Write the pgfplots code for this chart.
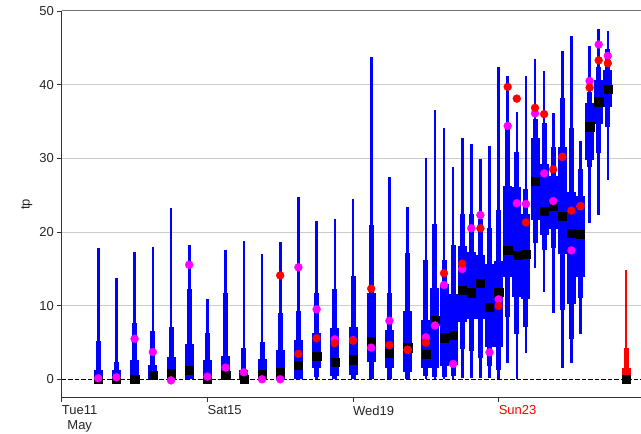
\documentclass[border=0pt]{standalone}
\usepackage{fontspec}
\setmainfont{Liberation Sans}
\usepackage{pgfplots}
\pgfplotsset{compat=1.18}
\usepackage{pgfplotstable}
\definecolor{eblue}{RGB}{0,0,255}
\definecolor{ered}{RGB}{255,0,0}
\definecolor{emag}{RGB}{255,0,255}

\pgfplotstableread{
x min p10 p25 med p75 p90 max red mag
1.0 0 0 0 0 1.26 5.2 17.8 nan 0.15
1.5 0 0 0 0 1.26 2.3 13.7 nan 0.27
2.0 0 0 0 0 2.6 7.6 17.3 nan 5.5
2.5 0 0 0 0.54 2.0 6.5 17.9 nan 3.7
3.0 0 0 0 0.85 3.07 7.05 23.2 nan -0.15
3.5 0 0 0 1.26 4.8 12.2 18.2 nan 15.55
4.0 0 0 0 0 2.6 6.3 10.9 nan 0.36
4.5 0 0 0 0.58 3.16 11.75 17.6 nan 1.58
5.0 0 0 0 0 1.26 4.3 18.8 nan 0.95
5.5 0 0 0 0.68 2.7 5.0 16.95 nan 0
6.0 0 0 0 0.95 4.0 9.0 18.7 14.1 0
6.5 0 0 0 1.9 5.33 9.3 24.8 3.45 15.2
7.0 0 0.35 1.49 3.16 6.24 11.67 21.5 5.56 9.5
7.5 0 0 0.45 2.3 6.9 12.2 21.7 4.9 5.43
8.0 0 0.1 0.58 2.66 7.1 14.0 24.5 5.24 5.3
8.5 0 0 2.4 5.1 11.75 20.9 43.7 12.3 4.3
9.0 0 0.1 1.5 3.5 6.7 11.75 27.5 4.65 7.95
9.5 0 0 1.03 4.3 9.3 17.1 23.4 4.0 4.0
10.0 0 0.4 1.5 3.43 8.0 16.2 30.1 4.97 5.7
10.25 0 0.3 1.6 7.95 12.35 21.1 36.6 nan 7.3
10.5 0 0.3 1.8 5.65 12.9 16.2 34.05 14.4 12.8
10.75 0 0.4 2.0 5.97 11.6 18.2 28.85 nan 2.08
11.0 0.2 4.1 7.75 12.1 18.1 22.5 32.7 15.7 14.97
11.25 0.2 3.9 8.2 11.75 17.3 22.4 32.0 nan 20.5
11.5 0.2 2.95 8.15 13.07 16.9 21.8 29.85 20.5 22.3
11.75 0.2 1.8 4.4 9.77 15.7 20.5 31.65 nan 3.66
12.0 0 1.26 4.4 11.85 16.0 23.0 42.4 9.95 10.85
12.25 2.17 8.45 13.95 17.5 26.2 34.05 41.2 39.7 34.4
12.5 0.1 6.2 11.2 16.8 26.1 30.8 36.3 38.1 23.9
12.75 3.6 7.05 10.9 17.0 22.5 25.9 41.15 21.3 23.8
13.0 15.06 18.45 21.6 26.9 32.8 35.4 43.55 36.85 36.1
13.25 11.9 17.5 19.6 22.85 29.2 34.8 41.9 36.0 27.95
13.5 9.0 17.8 20.4 23.5 27.6 31.5 36.2 28.5 24.2
13.75 1.5 9.4 16.95 22.1 31.6 38.2 44.6 30.2 30.2
14.0 2.17 5.43 10.2 19.8 25.45 34.05 46.6 22.9 17.5
14.25 6.15 11.05 13.9 19.65 24.95 28.5 32.4 23.5 23.5
14.5 21.2 28.85 29.75 34.3 37.5 39.0 45.2 39.6 40.5
14.75 22.3 30.7 34.7 37.7 40.6 42.4 47.6 43.3 45.45
15.0 27.1 34.3 36.9 39.4 42.0 44.8 47.25 42.9 43.9
}\ens

\pgfplotstableread{
x min p10 p25 med p75 p90 max
15.5 0 0 0 0 1.5 4.25 14.8
}\clim

\newcommand{\lf}{\fontsize{13bp}{14.3bp}\selectfont}

\begin{document}
\begin{tikzpicture}
\path[use as bounding box] (-61.8bp,-36.3bp) rectangle (579.2bp,397.7bp);
\begin{axis}[
  scale only axis, width=579.2bp, height=386.7bp,
  xmin=0, xmax=15.912, ymin=-2.5, ymax=50,
  axis x line=bottom, axis y line=left,
  axis line style={-, black!80, line width=0.9bp},
  tick align=outside, major tick length=4.5bp,
  tick style={black!80, line width=0.8bp},
  xtick={0,4,8,12},
  xticklabels={{Tue11\\May},Sat15,Wed19,\textcolor{ered}{Sun23}},
  xticklabel style={anchor=north west, align=center, inner xsep=0pt, inner ysep=2.5bp, yshift=-1bp},
  ytick={10,20,30,40}, extra y ticks={0,50}, extra y tick style={grid=none},
  ymajorgrids, grid style={black!20, line width=0.9bp},
  tick label style={font=\lf, text=black!85},
  /pgf/number format/assume math mode=true,
  ylabel={tp},
  every axis y label/.style={at={(axis description cs:-0.0605,0.5)}, rotate=90, anchor=center, font=\lf, text=black!85},
  clip=false,
]
\addplot[black!55, line width=1bp, forget plot] coordinates {(0,50) (15.912,50)};
\addplot[black, line width=1.1bp, dash pattern=on 4.5bp off 2bp, forget plot] coordinates {(0,0) (15.912,0)};

% ensemble ranges
\addplot[forget plot, draw=none, mark=none, error bars/.cd, y dir=plus, y explicit, error mark=none,
  error bar style={draw=eblue, line width=2.6bp}]
  table[x=x, y=min, y error plus expr=\thisrow{max}-\thisrow{min}] {\ens};
\addplot[forget plot, draw=none, mark=none, error bars/.cd, y dir=plus, y explicit, error mark=none,
  error bar style={draw=eblue, line width=5bp}]
  table[x=x, y=p10, y error plus expr=\thisrow{p90}-\thisrow{p10}] {\ens};
\addplot[forget plot, draw=none, mark=none, error bars/.cd, y dir=plus, y explicit, error mark=none,
  error bar style={draw=eblue, line width=9bp}]
  table[x=x, y=p25, y error plus expr=\thisrow{p75}-\thisrow{p25}] {\ens};

% climate box
\addplot[forget plot, draw=none, mark=none, error bars/.cd, y dir=plus, y explicit, error mark=none,
  error bar style={draw=ered, line width=2.6bp}]
  table[x=x, y=min, y error plus expr=\thisrow{max}-\thisrow{min}] {\clim};
\addplot[forget plot, draw=none, mark=none, error bars/.cd, y dir=plus, y explicit, error mark=none,
  error bar style={draw=ered, line width=5bp}]
  table[x=x, y=p10, y error plus expr=\thisrow{p90}-\thisrow{p10}] {\clim};
\addplot[forget plot, draw=none, mark=none, error bars/.cd, y dir=plus, y explicit, error mark=none,
  error bar style={draw=ered, line width=9bp}]
  table[x=x, y=p25, y error plus expr=\thisrow{p75}-\thisrow{p25}] {\clim};

% medians
\addplot[only marks, mark=square*, mark size=4.1bp, mark options={fill=black, draw=black, line width=0.3bp}] table[x=x, y=med] {\ens};
\addplot[only marks, mark=square*, mark size=4.1bp, mark options={fill=black, draw=black, line width=0.3bp}] table[x=x, y=med] {\clim};
% control and deterministic
\addplot[only marks, mark=*, mark size=4bp, mark options={fill=emag, draw=emag, line width=0.3bp}] table[x=x, y=mag] {\ens};
\addplot[only marks, mark=*, mark size=4bp, mark options={fill=ered, draw=ered, line width=0.3bp}] table[x=x, y=red] {\ens};
\end{axis}
\end{tikzpicture}
\end{document}
